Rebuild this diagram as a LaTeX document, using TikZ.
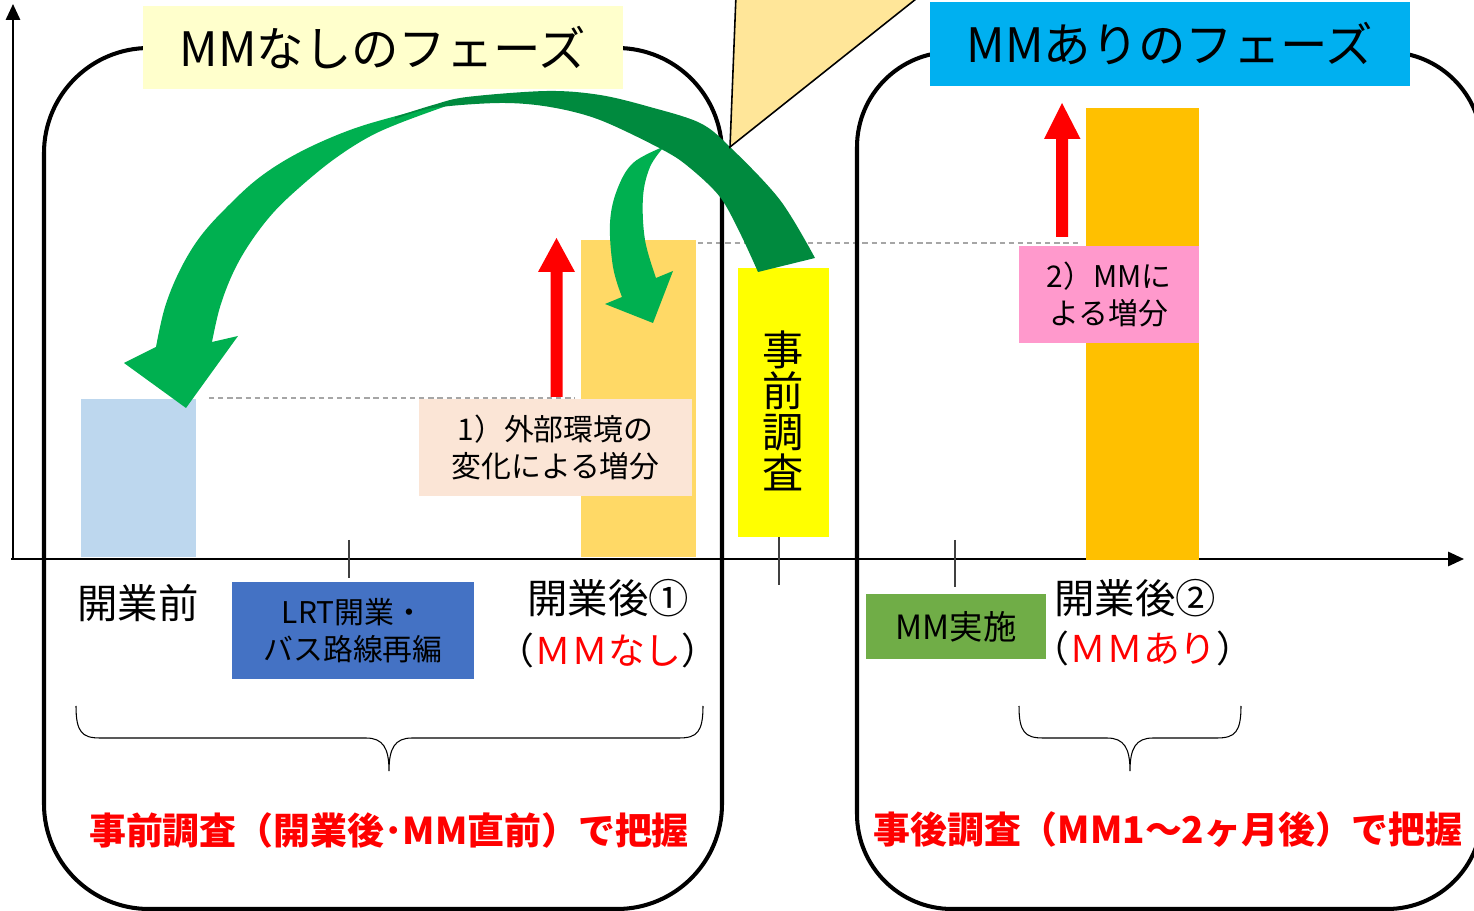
\documentclass[tikz,border=0pt]{standalone}
\usepackage{fontspec}
\setmainfont{Noto Sans CJK JP}
\usetikzlibrary{arrows.meta}
\definecolor{paleyel}{HTML}{FFFFCC}
\definecolor{cyanbox}{HTML}{00B0F0}
\definecolor{barblue}{HTML}{BDD7EE}
\definecolor{barorange}{HTML}{FFD966}
\definecolor{barorangeB}{HTML}{FFC000}
\definecolor{peach}{HTML}{FBE5D6}
\definecolor{pinkbox}{HTML}{FF99CC}
\definecolor{yelbox}{HTML}{FFFF00}
\definecolor{lrtblue}{HTML}{4472C4}
\definecolor{mmgreen}{HTML}{70AD47}
\definecolor{callout}{HTML}{FFE699}
\definecolor{brightgreen}{HTML}{00B050}
\definecolor{darkgreen}{HTML}{008A3E}
\definecolor{dashgray}{HTML}{A6A6A6}
\definecolor{redtxt}{HTML}{FF0000}
\begin{document}
\begin{tikzpicture}[x=0.02cm,y=-0.02cm,
  frame/.style={line width=2.3pt},
  axisline/.style={line width=1.3pt,-{Triangle[length=9pt,width=8pt]}},
  refline/.style={dashgray,line width=0.8pt,dash pattern=on 3pt off 2.2pt},
  tickline/.style={black!75,line width=0.7pt},
  tbox/.style={inner sep=0pt,align=center,text=black},
  bigtxt/.style={font=\fontsize{23}{26}\selectfont,inner sep=0pt},
  midtxt/.style={font=\fontsize{21}{24}\selectfont,inner sep=0pt},
  smalltxt/.style={font=\fontsize{17}{21}\selectfont},
  redbold/.style={font=\bfseries\fontsize{21}{24}\selectfont,text=redtxt,inner sep=0pt},
  bracestyle/.style={line width=0.6pt,black}
]
\useasboundingbox (0,0) rectangle (1474,911);
\clip (0,0) rectangle (1474,911);

% dashed reference lines
\draw[refline] (209,398) -- (575,398);
\draw[refline] (698,243) -- (1080,243);

% axes
\coordinate (origin) at (13,559);
\coordinate (ytip) at (13,4);
\coordinate (xtip) at (1464,559);
\draw[axisline] (origin) -- (ytip);
\draw[axisline] (11,559) -- (xtip);

% phase frames
\draw[frame,rounded corners=2.1cm] (44,48) rectangle (722,909);
\draw[frame,rounded corners=1.9cm] (857,52) rectangle (1482,909);

% bars
\node[fill=barblue,minimum width=2.3cm,minimum height=3.16cm,inner sep=0pt] (before) at (138.5,478) {};
\node[fill=barorange,minimum width=2.3cm,minimum height=6.34cm,inner sep=0pt] (afterA) at (638.5,398.5) {};
\node[fill=barorangeB,minimum width=2.26cm,minimum height=9.04cm,inner sep=0pt] (afterB) at (1142.5,334) {};

% red arrows
\fill[redtxt] (550.5,397) -- (550.5,272) -- (538,272) -- (556.5,238) -- (575,272) -- (562.5,272) -- (562.5,397) -- cycle;
\fill[redtxt] (1056,237) -- (1056,139) -- (1044,139) -- (1062,103) -- (1080.5,139) -- (1068,139) -- (1068,237) -- cycle;

% boxes with text
\node[tbox,fill=peach,minimum width=5.46cm,minimum height=1.94cm,smalltxt] (ext) at (555.5,447.5) {1）外部環境の\\変化による増分};
\node[tbox,fill=pinkbox,minimum width=3.6cm,minimum height=1.94cm,smalltxt] (mmgain) at (1109,294.5) {2）MMに\\よる増分};
\node[tbox,fill=lrtblue,minimum width=4.84cm,minimum height=1.94cm,smalltxt] (lrt) at (353,630.5) {LRT開業・\\バス路線再編};
\node[tbox,fill=mmgreen,minimum width=3.6cm,minimum height=1.3cm,font=\fontsize{19}{22}\selectfont] (mmdo) at (956,626.5) {MM実施};
\node[tbox,fill=yelbox,minimum width=1.82cm,minimum height=5.38cm] (pre) at (783.5,402.5) {};
\node[tbox,font=\fontsize{23.5}{23.3}\selectfont] (pretxt) at (783,411) {事\\前\\調\\査};

% titles
\node[tbox,fill=paleyel,minimum width=9.6cm,minimum height=1.66cm,font=\fontsize{27}{30}\selectfont] (titleL) at (383,47.5) {MMなしのフェーズ};
\node[tbox,fill=cyanbox,minimum width=9.6cm,minimum height=1.68cm,font=\fontsize{27}{30}\selectfont] (titleR) at (1170,44) {MMありのフェーズ};

% ticks
\draw[tickline] (349,540) -- (349,578);
\draw[tickline] (779,537) -- (779,585);
\draw[tickline] (955,540) -- (955,587);

% axis labels
\node[bigtxt] (lblBefore) at (138,603) {開業前};
\node[bigtxt] (lblAfter1) at (608,598) {開業後①};
\node[midtxt] (lblAfter1b) at (608,650) {（\textcolor{redtxt}{ＭＭなし}）};
\node[bigtxt] (lblAfter2) at (1135,598) {開業後②};
\node[midtxt] (lblAfter2b) at (1143,648) {（\textcolor{redtxt}{ＭＭあり}）};

% braces
\draw[bracestyle] (76,706) .. controls (76,732) and (82,738) .. (100,738) -- (366,738) .. controls (383,738) and (389,748) .. (389,771) .. controls (389,748) and (395,738) .. (412,738) -- (679,738) .. controls (697,738) and (703,732) .. (703,706);
\draw[bracestyle] (1019,706) .. controls (1019,732) and (1025,738) .. (1043,738) -- (1107,738) .. controls (1124,738) and (1130,748) .. (1130,771) .. controls (1130,748) and (1136,738) .. (1153,738) -- (1217,738) .. controls (1235,738) and (1241,732) .. (1241,706);

% survey captions
\node[redbold] (capL) at (389,830) {事前調査（開業後･MM直前）で把握};
\node[redbold] (capR) at (1168,830) {事後調査（MM1～2ヶ月後）で把握};

% small green arrow
\fill[brightgreen] plot[smooth,tension=0.6] coordinates {(663,147) (633,163) (617,190) (610,223) (613,267) (622,297)} -- (605,304) -- (653,323) -- (673,271) -- (656,278) -- plot[smooth,tension=0.6] coordinates {(656,278) (645,240) (643,197) (650,167) (663,148)} -- cycle;

% big green arrow (front part)
\fill[brightgreen] plot[smooth,tension=0.6] coordinates {(452,102) (400,115) (350,130) (300,152) (260,177) (227,207) (200,237) (180,270) (165,307) (156,347)} -- (124,363) -- (186,408) -- (238,336) -- (212,342) -- plot[smooth,tension=0.6] coordinates {(212,342) (220,307) (233,273) (250,243) (273,213) (300,187) (333,160) (367,138) (400,123) (452,104)} -- cycle;

% big green arrow (back part)
\fill[darkgreen] plot[smooth,tension=0.55] coordinates {(395,117) (433,105) (467,97) (547,91) (600,95) (650,107) (700,123) (730,147) (780,200) (815,258)} -- (758,272) -- plot[smooth,tension=0.55] coordinates {(758,272) (740,233) (720,197) (690,168) (663,150) (600,120) (550,107) (500,103) (433,108) (395,119)} -- cycle;

% callout triangle
\filldraw[fill=callout,draw=black,line width=0.9pt] (736,-5) -- (730,147) -- (921,-5) -- cycle;
\end{tikzpicture}
\end{document}
